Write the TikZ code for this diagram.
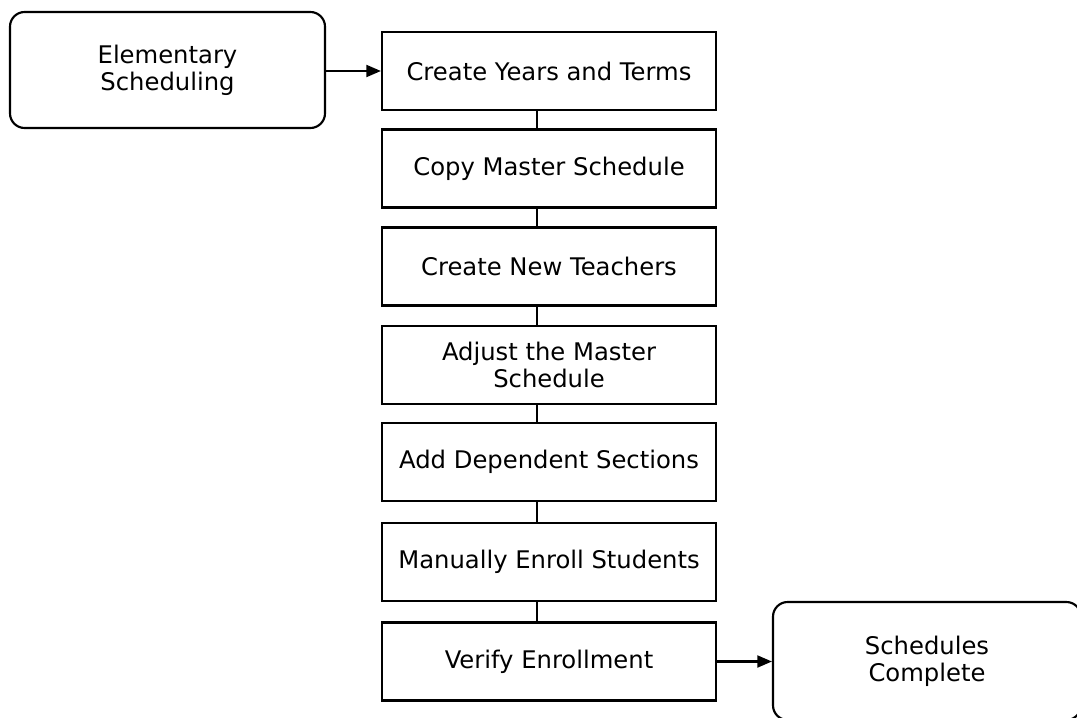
\documentclass[tikz,border=0pt]{standalone}
\usepackage{fontspec}
\setmainfont{DejaVu Sans}
\usetikzlibrary{arrows.meta}
\begin{document}
\begin{tikzpicture}[x=0.75pt,y=-0.75pt,
  every node/.style={font=\fontsize{18.2}{20.5}\selectfont, align=center, inner sep=0pt},
  stepbox/.style={draw, line width=1.6pt, minimum width=250.5pt, minimum height=58.5pt},
  endbox/.style={draw, line width=1.6pt, rounded corners=11pt},
  link/.style={line width=1.6pt},
  flow/.style={line width=1.6pt, -{Triangle[length=11pt,width=9pt]}}]
  \useasboundingbox (0,0) rectangle (1077,717);
  \clip (0,0) rectangle (1077,717);

  % start and end terminals
  \node[endbox, minimum width=236.25pt, minimum height=87pt] (start) at (167.5,70) {Elementary\\Scheduling};
  \node[endbox, minimum width=231pt, minimum height=88.5pt] (finish) at (927,661) {Schedules\\Complete};

  % process steps
  \node[stepbox] (s1) at (549,71)    {Create Years and Terms};
  \node[stepbox] (s2) at (549,168.5) {Copy Master Schedule};
  \node[stepbox] (s3) at (549,266.5) {Create New Teachers};
  \node[stepbox] (s4) at (549,365)   {Adjust the Master\\Schedule};
  \node[stepbox] (s5) at (549,462)   {Add Dependent Sections};
  \node[stepbox] (s6) at (549,562)   {Manually Enroll Students};
  \node[stepbox] (s7) at (549,661.5) {Verify Enrollment};

  % connectors
  \draw[flow] (start.east |- 0,71) -- (s1.west);
  \foreach \a/\b in {s1/s2, s2/s3, s3/s4, s4/s5, s5/s6, s6/s7}
    \draw[link] ([xshift=-9pt]\a.south) -- ([xshift=-9pt]\b.north);
  \draw[flow] (s7.east) -- (finish.west |- s7.east);
\end{tikzpicture}
\end{document}
